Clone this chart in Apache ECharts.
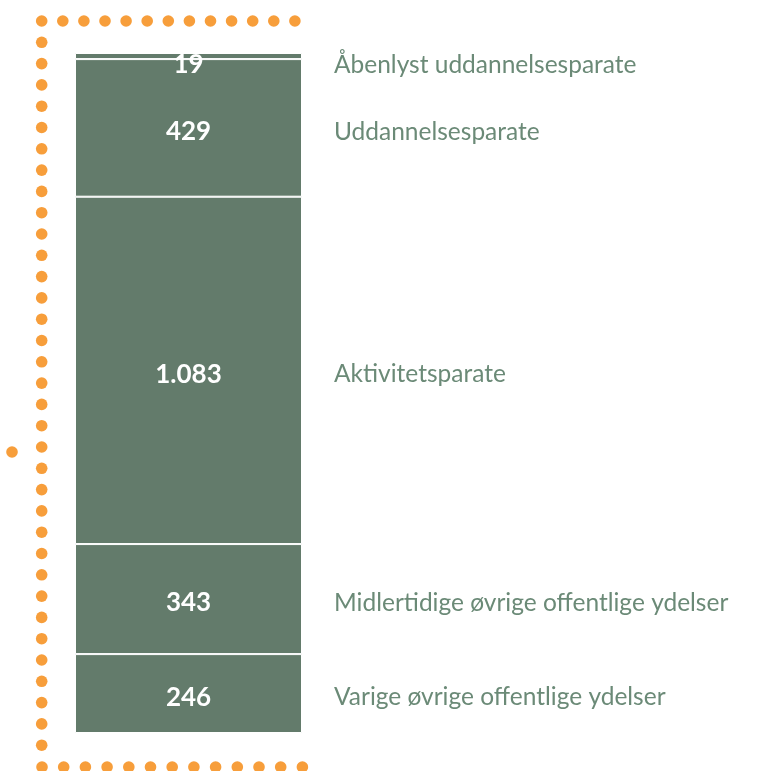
<!DOCTYPE html>
<html>
<head>
<meta charset="utf-8">
<script src="https://cdn.jsdelivr.net/npm/echarts@6/dist/echarts.min.js"></script>
<style>
  html, body { margin: 0; padding: 0; background: #fff; }
  #chart { width: 772px; height: 771px; }
</style>
</head>
<body>
<div id="chart"></div>
<script>
// segments from bottom to top
var groupNames = [
    "Varige øvrige offentlige ydelser",
    "Midlertidige øvrige offentlige ydelser",
    "Aktivitetsparate",
    "Uddannelsesparate",
    "Åbenlyst uddannelsesparate"
];
var groupValues = [246, 343, 1083, 429, 19];
var category = ["I alt"];

var barColor = "#637b6b";
var textColor = "#6b8a77";
var dotColor = "#f79e3b";

function fmtDa(v) {
    return String(v).replace(/\B(?=(\d{3})+(?!\d))/g, ".");
}

var total = 0;
for (var i = 0; i < groupValues.length; i++) total += groupValues[i];

// top label sits a bit lower than its thin segment
function labelOffset(i) {
    return i == groupValues.length - 1 ? [0, 9] : [0, 4];
}

var series = [];
// the visible bar with values inside
for (var i = 0; i < groupValues.length; i++) {
    series.push({
        name: groupNames[i],
        type: "bar",
        stack: "vis",
        barWidth: "100%",
        barGap: "-100%",
        data: [groupValues[i]],
        itemStyle: { color: barColor, borderColor: "#ffffff", borderWidth: 1 },
        label: {
            show: true,
            position: "inside",
            color: "#ffffff",
            fontFamily: "Lato",
            fontWeight: "bold",
            fontSize: 26,
            offset: labelOffset(i),
            formatter: function (p) { return fmtDa(p.value); }
        },
        silent: true
    });
}
// a see-through copy, only to hang the names on the right
for (var i = 0; i < groupValues.length; i++) {
    series.push({
        name: groupNames[i] + " ",
        type: "bar",
        stack: "names",
        barWidth: "100%",
        barGap: "-100%",
        data: [groupValues[i]],
        itemStyle: { color: "rgba(0,0,0,0)" },
        label: {
            show: true,
            position: "right",
            distance: 32,
            color: textColor,
            fontFamily: "Lato",
            fontSize: 24.5,
            offset: labelOffset(i),
            formatter: groupNames[i]
        },
        silent: true
    });
}

// orange dotted bracket
var dots = [];
function dot(x, y) {
    dots.push({ type: "circle", shape: { cx: x, cy: y, r: 5.8 }, style: { fill: dotColor }, silent: true });
}
for (var k = 0; k < 13; k++) dot(41.7 + k * 21.1, 21);
for (var k = 1; k < 35; k++) dot(41.7, 21 + k * 21.3);
for (var k = 0; k < 13; k++) dot(42 + k * 21.7, 767);
dot(12, 452);

var option = {
    animation: false,
    grid: { left: 75, right: 470, top: 53, bottom: 38 },
    xAxis: {
        type: "category",
        data: category,
        show: false
    },
    yAxis: {
        type: "value",
        min: 0,
        max: total,
        show: false
    },
    series: series,
    graphic: dots
};

var myChart = echarts.init(document.getElementById("chart"));
myChart.setOption(option);
</script>
</body>
</html>
